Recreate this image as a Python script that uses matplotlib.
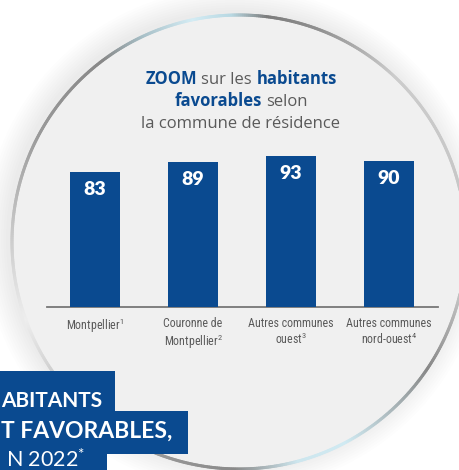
import matplotlib
matplotlib.use("Agg")
import matplotlib.pyplot as plt
import matplotlib.patches as mpatches
from matplotlib.collections import LineCollection
from matplotlib.colors import to_rgb
import numpy as np

plt.rcParams['mathtext.default'] = 'regular'

communes = ['Montpellier$^{1}$', 'Couronne de\nMontpellier$^{2}$',
            'Autres communes\nouest$^{3}$', 'Autres communes\nnord-ouest$^{4}$']
favorables = [83, 89, 93, 90]

title_lines = [
    [('ZOOM', 'blue', 'bold'), ('sur les', 'gray', 'normal'), ('habitants', 'blue', 'bold')],
    [('favorables', 'blue', 'bold'), ('selon', 'gray', 'normal')],
    [('la commune de résidence', 'gray', 'normal')],
]
# banner text is cut by the left edge in the source, keep the visible part
banner_lines = ['ABITANTS', 'T FAVORABLES,']
banner_year = 'N 2022$^{*}$'

BLUE = '#0a4a90'
GRAY = '#5a5a5a'
col = {'blue': BLUE, 'gray': GRAY}

W, H = 460, 470
fig = plt.figure(figsize=(W / 100, H / 100), dpi=100)
fig.patch.set_facecolor('white')

# background layer in pixel coordinates (y down)
bg = fig.add_axes([0, 0, 1, 1])
bg.set_xlim(0, W)
bg.set_ylim(H, 0)
bg.axis('off')

cx, cy, r = 239, 242, 227

# soft shadow
for k in range(10):
    bg.add_patch(mpatches.Circle((cx - 4, cy - 3), r + 2 + k * 2.5, color='#000000',
                                 alpha=0.008, lw=0, zorder=0))
bg.add_patch(mpatches.Circle((cx, cy), r, facecolor='#f0f0f0', lw=0, zorder=1))

# ring with varying colour
keys = [(0, '#c4c4c4'), (47, '#cccccc'), (70, '#909090'), (83, '#7c7c7c'),
        (92, '#b8d8e2'), (102, '#d4ecf4'), (115, '#a8c0c8'), (127, '#888888'),
        (152, '#9a9a9a'), (180, '#cdcdcd'), (200, '#eeeeee'), (225, '#bbbbbb'),
        (247, '#999999'), (269, '#8a8a8a'), (285, '#cde6ee'), (298, '#d0eaf2'),
        (326, '#888888'), (345, '#c0c0c0'), (360, '#c4c4c4')]
ka = np.array([k[0] for k in keys], dtype=float)
kc = np.array([to_rgb(k[1]) for k in keys])
th = np.linspace(0, 360, 721)
rgb = np.stack([np.interp(th, ka, kc[:, j]) for j in range(3)], axis=1)
px = cx + r * np.cos(np.radians(th))
py = cy - r * np.sin(np.radians(th))
pts = np.stack([px, py], axis=1)
segs = np.stack([pts[:-1], pts[1:]], axis=1)
bg.add_collection(LineCollection(segs, colors=rgb[:-1], linewidths=2.2, zorder=2,
                                 capstyle='round'))

# title with mixed colours, each line centred
renderer = fig.canvas.get_renderer()
tsize = 12
def width_of(s, weight):
    t = bg.text(0, 0, s, fontsize=tsize, fontweight=weight, family='Open Sans')
    w = t.get_window_extent(renderer).width
    t.remove()
    return w
space = width_of('x x', 'normal') - width_of('xx', 'normal')
baselines = [84, 106, 128]
for parts, yb in zip(title_lines, baselines):
    widths = [width_of(s, wt) for s, c, wt in parts]
    total = sum(widths) + space * (len(parts) - 1)
    x = 241 - total / 2
    for (s, c, wt), w in zip(parts, widths):
        bg.text(x, yb, s, fontsize=tsize, fontweight=wt, color=col[c],
                family='Open Sans', va='baseline', ha='left', zorder=3)
        x += w + space

# bar chart
ax = fig.add_axes([47 / W, 163 / H, 391 / W, 157 / H])
ax.patch.set_alpha(0)
x = np.arange(len(favorables))
ax.bar(x, favorables, width=0.51, color=BLUE, zorder=3)
for xi, v in zip(x, favorables):
    ax.annotate(str(v), (xi, v), xytext=(0, -12.5), textcoords='offset points',
                ha='center', va='center', color='white', fontsize=14,
                fontweight='heavy', family='Lato')
ax.set_xlim(-0.49, 3.5)
ax.set_ylim(0, 96.6)
for s in ['top', 'right', 'left']:
    ax.spines[s].set_visible(False)
ax.spines['bottom'].set_color('#777777')
ax.spines['bottom'].set_linewidth(1.3)
ax.set_yticks([])
ax.set_xticks(x)
ax.set_xticklabels(communes, fontsize=8.6, color=GRAY, linespacing=1.2,
                   family=['Roboto Condensed', 'Roboto'])
ax.tick_params(axis='x', length=0, pad=7)

# banner at bottom left
bg.add_patch(mpatches.Rectangle((0, 371), 115, 42, color=BLUE, lw=0, zorder=4))
bg.add_patch(mpatches.Rectangle((0, 411), 188, 43, color=BLUE, lw=0, zorder=4))
bg.add_patch(mpatches.Rectangle((0, 453), 107, 20, color=BLUE, lw=0, zorder=4))
bg.text(1, 407, banner_lines[0], color='white', fontsize=15, fontweight='bold',
        family='Lato', ha='left', va='baseline', zorder=5)
bg.text(1, 438, banner_lines[1], color='white', fontsize=16.5, fontweight='bold',
        family='Lato', ha='left', va='baseline', zorder=5)
bg.text(6, 467, banner_year, color='white', fontsize=15.5, fontweight='normal',
        family='Lato', ha='left', va='baseline', zorder=5)

fig.savefig('out.png', dpi=100, facecolor='white')
